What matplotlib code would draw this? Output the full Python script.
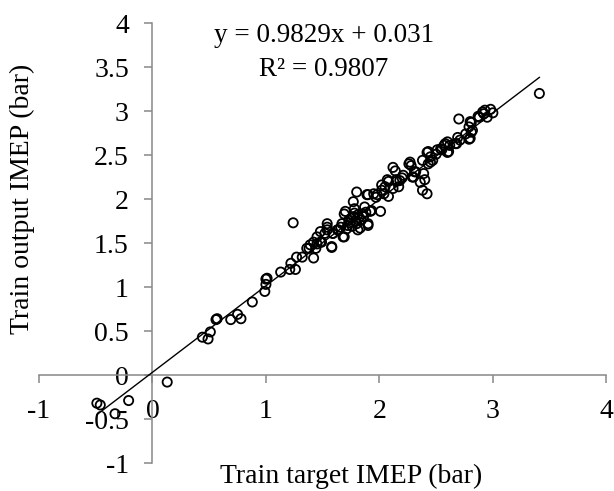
import numpy as np
import matplotlib
matplotlib.use("Agg")
import matplotlib.pyplot as plt

plt.rcParams['font.family'] = ['Liberation Serif', 'DejaVu Serif']

# values
target = [-0.49, -0.46, -0.33, -0.21, 0.13, 0.44, 0.49, 0.51, 0.56, 0.57,
          0.69, 0.75, 0.78, 0.88, 0.99, 1.00, 1.00, 1.01, 1.13, 1.21,
          1.22, 1.26, 1.27, 1.24, 1.32,
          1.38, 1.42, 1.44, 1.45, 1.49, 1.52, 1.54, 1.58, 1.59, 1.63,
          1.66, 1.69, 1.69, 1.36, 1.39, 1.42, 1.45, 1.48, 1.48, 1.54,
          1.54, 1.58, 1.59, 1.64, 1.67, 1.68,
          1.70, 1.73, 1.77, 1.81, 1.84, 1.80, 1.76, 1.83, 1.90, 1.92,
          1.80, 1.77, 1.90, 2.01, 1.78, 1.87, 1.85, 1.81, 1.90, 1.93,
          1.97, 1.75, 1.79, 1.72, 1.82, 1.78, 1.74, 1.86, 1.71, 1.88,
          1.98, 2.04, 2.08, 2.02, 2.07, 2.12, 2.17, 2.15, 2.12, 2.14,
          2.18, 2.21, 2.26, 2.28, 2.30, 2.31, 2.36, 2.38, 2.42, 2.39,
          2.38, 2.42, 2.45, 2.47, 2.43, 2.50, 2.54, 2.57, 2.60, 2.60,
          2.67, 2.69, 2.70, 2.76, 2.79, 2.81, 2.79, 2.81, 2.88, 2.91,
          2.95, 2.98, 3.00, 3.41,
          2.29, 2.20, 2.15, 2.08, 2.05, 2.02, 1.95, 1.89, 2.27, 2.32,
          2.40, 2.43, 2.45, 2.51, 2.55, 2.58, 2.61, 2.62, 2.68, 2.71,
          2.80, 2.82, 2.80, 2.87, 2.92, 2.93]
output = [-0.32, -0.34, -0.44, -0.29, -0.08, 0.43, 0.41, 0.49, 0.63, 0.64,
          0.63, 0.69, 0.64, 0.83, 0.95, 1.03, 1.09, 1.10, 1.17, 1.20,
          1.27, 1.20, 1.34, 1.73, 1.34,
          1.44, 1.33, 1.44, 1.49, 1.51, 1.61, 1.68, 1.45, 1.61, 1.65,
          1.68, 1.57, 1.83, 1.44, 1.48, 1.51, 1.57, 1.63, 1.51, 1.72,
          1.65, 1.46, 1.61, 1.65, 1.72, 1.57,
          1.86, 1.76, 1.80, 1.82, 1.76, 1.72, 1.69, 1.67, 1.72, 1.86,
          2.08, 1.97, 2.05, 1.86, 1.89, 1.91, 1.83, 1.65, 1.70, 1.87,
          2.02, 1.78, 1.75, 1.70, 1.79, 1.84, 1.73, 1.80, 1.66, 1.85,
          2.05, 2.06, 2.03, 2.16, 2.22, 2.12, 2.14, 2.22, 2.36, 2.32,
          2.21, 2.27, 2.40, 2.38, 2.25, 2.31, 2.19, 2.10, 2.06, 2.29,
          2.44, 2.53, 2.48, 2.44, 2.40, 2.51, 2.57, 2.61, 2.65, 2.53,
          2.63, 2.70, 2.91, 2.74, 2.82, 2.87, 2.68, 2.76, 2.93, 2.99,
          2.93, 3.02, 2.98, 3.20,
          2.25, 2.24, 2.20, 2.20, 2.14, 2.10, 2.06, 2.05, 2.42, 2.31,
          2.22, 2.54, 2.42, 2.56, 2.56, 2.63, 2.54, 2.61, 2.63, 2.67,
          2.88, 2.78, 2.69, 2.94, 2.97, 3.01]
slope = 0.9829
intercept = 0.031
r2 = 0.9807

x = np.array(target)
y = np.array(output)

fig = plt.figure(figsize=(6.14, 4.91), dpi=100)
ax = fig.add_axes([0.0635, 0.057, 0.924, 0.896])

ax.scatter(x, y, s=44, facecolors='none', edgecolors='black', linewidths=1.3, zorder=3)

xl = np.array([x.min(), x.max()])
ax.plot(xl, slope * xl + intercept, color='black', lw=1.0, zorder=4)

ax.set_xlim(-1, 4)
ax.set_ylim(-1, 4)
ax.set_xticks([-1, 0, 1, 2, 3, 4])
ax.set_xticklabels(['-1', '0', '1', '2', '3', '4'])
ax.set_yticks([-1, -0.5, 0, 0.5, 1, 1.5, 2, 2.5, 3, 3.5, 4])
ax.set_yticklabels(['-1', '-0.5', '0', '0.5', '1', '1.5', '2', '2.5', '3', '3.5', '4'])

ax.spines['left'].set_position(('data', 0))
ax.spines['bottom'].set_position(('data', 0))
ax.spines['right'].set_visible(False)
ax.spines['top'].set_visible(False)
for s in ['left', 'bottom']:
    ax.spines[s].set_color('#888888')
    ax.spines[s].set_linewidth(1.1)
ax.tick_params(direction='out', length=6, width=1.1, color='#888888',
               labelsize=20, pad=11)

ax.text(1.51, 3.86, 'y = 0.9829x + 0.031', ha='center', va='center', fontsize=19.5)
ax.text(1.51, 3.47, 'R² = 0.9807', ha='center', va='center', fontsize=19.5)

fig.text(351.5 / 614, 1 - 476 / 491, 'Train target IMEP (bar)', ha='center', va='center', fontsize=20)
fig.text(22 / 614, 1 - 199 / 491, 'Train output IMEP (bar)', ha='center', va='center',
         rotation=90, fontsize=20)

fig.savefig('out.png', dpi=100)
